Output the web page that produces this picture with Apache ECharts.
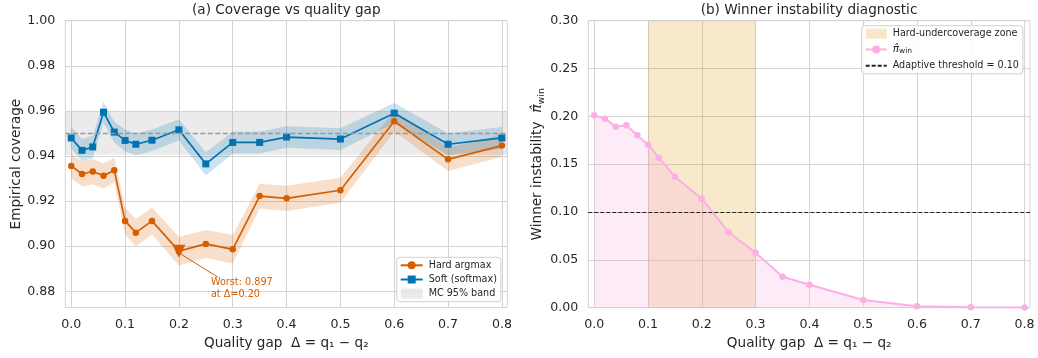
<!DOCTYPE html>
<html>
<head>
<meta charset="utf-8">
<script src="https://cdn.jsdelivr.net/npm/echarts@6/dist/echarts.min.js"></script>
<style>
html,body{margin:0;padding:0;background:#fff;}
#c{width:1038px;height:358px;}
</style>
</head>
<body>
<div id="c"></div>
<script>
// ---- data ----
const gaps = [0, 0.02, 0.04, 0.06, 0.08, 0.10, 0.12, 0.15, 0.20, 0.25, 0.30, 0.35, 0.40, 0.50, 0.60, 0.70, 0.80];
const hardCov = [0.9356, 0.9320, 0.9331, 0.9312, 0.9337, 0.9112, 0.9060, 0.9112, 0.8978, 0.9010, 0.8986, 0.9222, 0.9212, 0.9248, 0.9554, 0.9385, 0.9446];
const hardHalf = [0.0055, 0.0056, 0.0056, 0.0056, 0.0055, 0.0060, 0.0062, 0.0060, 0.0064, 0.0062, 0.0063, 0.0055, 0.0056, 0.0055, 0.0045, 0.0052, 0.0049];
const softCov = [0.9480, 0.9425, 0.9440, 0.9594, 0.9506, 0.9469, 0.9452, 0.9470, 0.9516, 0.9365, 0.9460, 0.9460, 0.9484, 0.9475, 0.9590, 0.9452, 0.9480];
const softHalf = [0.0048, 0.0050, 0.0050, 0.0046, 0.0047, 0.0048, 0.0049, 0.0048, 0.0047, 0.0052, 0.0049, 0.0049, 0.0048, 0.0048, 0.0045, 0.0049, 0.0048];
const piWin = [0.2011, 0.1976, 0.1892, 0.1906, 0.1802, 0.1704, 0.1568, 0.1369, 0.1139, 0.0788, 0.0575, 0.0324, 0.0240, 0.0080, 0.0015, 0.0005, 0.0002];
const nominal = 0.95;
const mcBand = [0.9405, 0.9595];
const worstGap = 0.20;
const worstCov = 0.8978;
const worstText = ['Worst: 0.897', 'at Δ=0.20'];
const zone = [0.10, 0.30];
const threshold = 0.10;
const xTicks = [0, 0.1, 0.2, 0.3, 0.4, 0.5, 0.6, 0.7, 0.8];
const yTicksA = [0.88, 0.90, 0.92, 0.94, 0.96, 0.98, 1.00];
const yTicksB = [0, 0.05, 0.10, 0.15, 0.20, 0.25, 0.30];

// ---- style ----
const ORANGE = '#d55e00', BLUE = '#0173b2', PINK = '#fbafe4';
const TXT = '#262626', GRID = '#d4d4d4';
const FONT = '"DejaVu Sans", sans-serif';

const pairs = (ys) => gaps.map((g, i) => [g, ys[i]]);

function xAxisCfg(gi) {
  return {
    type: 'value', gridIndex: gi, min: -0.011, max: 0.81,
    name: 'Quality gap  Δ = q₁ − q₂', nameLocation: 'middle', nameGap: 29,
    nameTextStyle: {fontSize: 13.6, color: TXT, fontFamily: FONT},
    axisLine: {show: false},
    axisTick: {show: false, customValues: xTicks},
    axisLabel: {customValues: xTicks, formatter: v => v.toFixed(1), fontSize: 12.6, color: TXT, fontFamily: FONT, margin: 11},
    splitLine: {show: true, lineStyle: {color: GRID, width: 1}}
  };
}
function yAxisCfg(gi, min, max, ticks, name) {
  return {
    type: 'value', gridIndex: gi, min: min, max: max,
    name: name, nameLocation: 'middle', nameGap: 42,
    nameTextStyle: {fontSize: 13.6, color: TXT, fontFamily: FONT,
      rich: {
        a: {fontSize: 13.6, color: TXT, fontFamily: FONT, lineHeight: 18},
        p: {fontSize: 14, color: TXT, fontFamily: FONT, fontStyle: 'italic', lineHeight: 18},
        s: {fontSize: 9.5, color: TXT, fontFamily: FONT, verticalAlign: 'bottom', lineHeight: 18}
      }},
    axisLine: {show: false},
    axisTick: {show: false, customValues: ticks},
    axisLabel: {customValues: ticks, formatter: v => v.toFixed(2), fontSize: 12.6, color: TXT, fontFamily: FONT, margin: 10},
    splitLine: {show: true, lineStyle: {color: GRID, width: 1}}
  };
}

function bandSeries(center, half, color) {
  const lo = center.map((v, i) => v - half[i]);
  const hi = center.map((v, i) => v + half[i]);
  return {
    type: 'custom', xAxisIndex: 0, yAxisIndex: 0, silent: true, z: 1,
    data: gaps.map((g, i) => [g, lo[i], hi[i]]),
    encode: {x: 0, y: [1, 2]},
    renderItem: function (params, api) {
      if (params.dataIndex !== 0) return;
      const top = gaps.map((g, i) => api.coord([g, hi[i]]));
      const bot = gaps.map((g, i) => api.coord([g, lo[i]])).reverse();
      return {type: 'polygon', shape: {points: top.concat(bot)}, style: {fill: color, stroke: null}};
    }
  };
}

const chart = echarts.init(document.getElementById('c'), null, {renderer: 'canvas'});

const option = {
  animation: false,
  backgroundColor: '#fff',
  textStyle: {fontFamily: FONT},
  title: [
    {text: '(a) Coverage vs quality gap', left: 286.3, top: 3.5, padding: 0, textAlign: 'center',
     textStyle: {fontSize: 13.6, fontWeight: 'normal', color: TXT, fontFamily: FONT}},
    {text: '(b) Winner instability diagnostic', left: 809, top: 3.5, padding: 0, textAlign: 'center',
     textStyle: {fontSize: 13.6, fontWeight: 'normal', color: TXT, fontFamily: FONT}}
  ],
  grid: [
    {left: 65.3, top: 20.7, width: 442, height: 286.8, show: true, borderColor: GRID, borderWidth: 1, backgroundColor: 'transparent'},
    {left: 588.3, top: 20.7, width: 441.7, height: 287, show: true, borderColor: GRID, borderWidth: 1, backgroundColor: 'transparent'}
  ],
  xAxis: [xAxisCfg(0), xAxisCfg(1)],
  yAxis: [
    yAxisCfg(0, 0.8728, 1.0, yTicksA, 'Empirical coverage'),
    yAxisCfg(1, 0, 0.30, yTicksB, '{a|Winner instability  }{p|π̂}{s|win}')
  ],
  legend: [
    {
      left: 396.7, top: 257.3, orient: 'vertical',
      padding: [3, 4, 3, 3], itemGap: 4.2, itemWidth: 22, itemHeight: 10,
      backgroundColor: 'rgba(255,255,255,0.85)', borderColor: '#d0d0d0', borderWidth: 1, borderRadius: 3,
      textStyle: {fontSize: 9.6, color: TXT, fontFamily: FONT, padding: [0, 0, 0, 1]},
      data: [
        {name: 'Hard argmax'},
        {name: 'Soft (softmax)'},
        {name: 'MC 95% band', icon: 'rect', itemStyle: {color: 'rgba(128,128,128,0.17)'}}
      ]
    },
    {
      left: 861.7, top: 25.7, orient: 'vertical',
      padding: [3, 4, 3, 3], itemGap: 5.3, itemWidth: 21, itemHeight: 10,
      backgroundColor: 'rgba(255,255,255,0.85)', borderColor: '#d0d0d0', borderWidth: 1, borderRadius: 3,
      textStyle: {fontSize: 9.6, color: TXT, fontFamily: FONT, padding: [0, 0, 0, 1],
        rich: {
          p: {fontSize: 10.5, color: TXT, fontFamily: FONT, fontStyle: 'italic', lineHeight: 12},
          s: {fontSize: 7.5, color: TXT, fontFamily: FONT, verticalAlign: 'bottom', lineHeight: 12}
        }},
      formatter: n => n === 'piwin' ? '{p|π̂}{s|win}' : n,
      data: [
        {name: 'Hard-undercoverage zone', icon: 'rect', itemStyle: {color: 'rgba(222,143,5,0.22)'}},
        {name: 'piwin'},
        {name: 'Adaptive threshold = 0.10', itemStyle: {color: 'rgba(0,0,0,0)', borderWidth: 0, opacity: 0}}
      ]
    }
  ],
  series: [
    // MC band (grey) + nominal line
    {
      name: 'MC 95% band', type: 'line', xAxisIndex: 0, yAxisIndex: 0, data: [],
      itemStyle: {color: 'rgba(128,128,128,0.17)'}, lineStyle: {color: 'rgba(128,128,128,0.17)'},
      markArea: {silent: true, itemStyle: {color: 'rgba(128,128,128,0.16)'},
        data: [[{yAxis: mcBand[0]}, {yAxis: mcBand[1]}]]},
      markLine: {silent: true, symbol: 'none', label: {show: false},
        lineStyle: {color: '#999999', type: [5, 2.5], width: 1.3},
        data: [{yAxis: nominal}]}
    },
    bandSeries(hardCov, hardHalf, 'rgba(213,94,0,0.2)'),
    bandSeries(softCov, softHalf, 'rgba(1,115,178,0.2)'),
    // lines
    {name: 'Hard argmax', type: 'line', xAxisIndex: 0, yAxisIndex: 0, data: pairs(hardCov),
     symbol: 'circle', symbolSize: 6.5, itemStyle: {color: ORANGE}, lineStyle: {color: ORANGE, width: 1.7}, z: 3,
     markPoint: {
       silent: true, animation: false, label: {show: false},
       data: [{coord: [worstGap, worstCov], symbol: 'triangle', symbolRotate: 180, symbolSize: [13, 13],
               symbolOffset: [0, 0], itemStyle: {color: ORANGE, opacity: 1, borderWidth: 0}}]
     }},
    {name: 'Soft (softmax)', type: 'line', xAxisIndex: 0, yAxisIndex: 0, data: pairs(softCov),
     symbol: 'rect', symbolSize: 7, itemStyle: {color: BLUE}, lineStyle: {color: BLUE, width: 1.7}, z: 3},

    // right panel
    {
      name: 'Hard-undercoverage zone', type: 'line', xAxisIndex: 1, yAxisIndex: 1, data: [],
      itemStyle: {color: 'rgba(222,143,5,0.22)'}, lineStyle: {color: 'rgba(222,143,5,0.22)'},
      markArea: {silent: true, itemStyle: {color: 'rgba(222,143,5,0.2)'},
        data: [[{xAxis: zone[0]}, {xAxis: zone[1]}]]}
    },
    {
      name: 'piwin', type: 'line', xAxisIndex: 1, yAxisIndex: 1, data: pairs(piWin),
      symbol: 'circle', symbolSize: 6.5, itemStyle: {color: PINK}, lineStyle: {color: PINK, width: 2},
      areaStyle: {color: 'rgba(251,175,228,0.25)', opacity: 1}, z: 3
    },
    {
      name: 'Adaptive threshold = 0.10', type: 'line', xAxisIndex: 1, yAxisIndex: 1, data: [],
      symbol: 'none', itemStyle: {color: '#222'}, lineStyle: {color: '#222', type: [4, 2], width: 1.1},
      markLine: {silent: true, symbol: 'none', label: {show: false},
        lineStyle: {color: '#222', type: [4, 2], width: 1.1},
        data: [{yAxis: threshold}]}
    }
  ]
};
chart.setOption(option);

// annotation for the worst point, positioned through the axis scales
const p = chart.convertToPixel({gridIndex: 0}, [worstGap, worstCov]);
chart.setOption({
  graphic: [
    {type: 'line', z: 10, silent: true,
     shape: {x1: p[0] + 2, y1: p[1] + 3, x2: p[0] + 39, y2: p[1] + 26},
     style: {stroke: ORANGE, lineWidth: 1}},
    {type: 'text', z: 10, silent: true, x: p[0] + 32, y: p[1] + 26,
     style: {text: worstText.join('\n'),
       fill: ORANGE, fontSize: 9.7, fontFamily: FONT, lineHeight: 11.5, verticalAlign: 'top', align: 'left'}}
  ]
});
</script>
</body>
</html>
